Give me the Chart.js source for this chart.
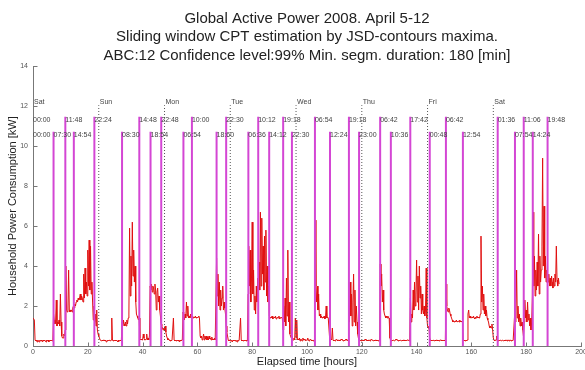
<!DOCTYPE html>
<html>
<head>
<meta charset="utf-8">
<script src="https://cdn.jsdelivr.net/npm/chart.js@4.4.1/dist/chart.umd.min.js"></script>
<style>
  html, body { margin: 0; padding: 0; background: #fff; }
  #wrap { width: 585px; height: 370px; }
</style>
</head>
<body>
<div id="wrap"><canvas id="power" width="585" height="370"></canvas></div>
<script>
// household active power [kW], one reading every 15 minutes from Sat 00:00
const stepHours = 0.25;
const power = [
  // Sat
  1.4, 1.4, 1.3, 0.3, 0.25, 0.3, 0.2, 0.3,
  0.25, 0.2, 0.3, 0.25, 0.3, 0.25, 0.2, 0.3,
  0.25, 0.3, 0.25, 0.2, 0.3, 0.25, 0.3, 0.2,
  0.25, 0.3, 0.25, 0.3, 0.25, 0.3, 1.6, 1.3,
  1.1, 1.2, 2.3, 1.0, 1.2, 1.1, 1.3, 1.0,
  2.6, 1.2, 0.5, 0.4, 0.4, 0.6, 0.5, 0.8,
  4.0, 1.8, 1.7, 1.9, 3.8, 1.8, 1.7, 1.8,
  1.8, 1.7, 1.9, 2.0, 1.9, 2.1, 2.0, 2.2,
  2.3, 2.2, 2.4, 2.3, 2.4, 2.6, 2.3, 2.5,
  2.4, 2.2, 3.6, 2.4, 3.9, 2.6, 3.2, 2.5,
  4.8, 3.0, 5.3, 2.8, 5.0, 2.6, 3.2, 2.2,
  1.3, 2.0, 1.2, 1.6, 1.0, 1.8, 0.8, 0.6,
  // Sun
  0.5, 0.4, 0.3, 0.3, 0.25, 0.3, 0.25, 0.3,
  0.3, 0.25, 0.3, 0.2, 0.25, 0.3, 0.25, 0.3,
  0.3, 0.25, 0.3, 1.4, 0.3, 0.25, 0.3, 0.25,
  0.3, 0.25, 0.3, 0.25, 0.2, 0.3, 0.25, 0.3,
  0.25, 0.3, 1.2, 1.0, 1.3, 1.1, 1.0, 1.2,
  1.0, 1.3, 1.1, 1.4, 1.6, 5.9, 2.5, 4.5,
  3.0, 6.2, 3.5, 4.8, 3.2, 4.0, 2.2, 1.6,
  1.5, 1.4, 1.3, 1.4, 0.4, 0.3, 0.35, 0.3,
  0.3, 0.6, 0.4, 0.3, 0.3, 0.35, 0.6, 0.3,
  0.4, 0.3, 0.5, 3.0, 2.8, 3.1, 2.7, 3.0,
  2.9, 2.6, 3.1, 2.8, 1.8, 2.7, 2.9, 2.2,
  2.5, 1.8, 1.5, 1.1, 1.0, 0.9, 0.8, 0.9,
  // Mon
  0.8, 1.0, 0.7, 0.5, 0.4, 0.3, 0.35, 0.3,
  0.25, 0.3, 0.25, 0.3, 0.3, 1.4, 0.3, 0.25,
  0.3, 0.25, 0.3, 0.25, 0.3, 0.25, 0.2, 0.3,
  0.25, 0.3, 0.3, 1.7, 1.5, 1.3, 1.6, 1.4,
  2.2, 1.5, 2.0, 1.4, 1.5, 1.4, 1.6, 1.4,
  1.4, 1.5, 1.4, 1.45, 1.4, 1.5, 1.4, 1.45,
  1.4, 1.45, 1.5, 1.4, 0.5, 0.4, 0.5, 0.3,
  0.4, 0.6, 0.3, 0.5, 0.35, 0.5, 0.3, 0.45,
  0.3, 0.5, 0.35, 0.4, 0.3, 0.45, 0.3, 0.35,
  0.3, 0.4, 0.3, 0.3, 4.4, 2.5, 3.6, 2.0,
  3.2, 1.8, 2.8, 2.0, 2.4, 3.0, 1.8, 2.2,
  1.9, 1.6, 1.0, 0.7, 0.5, 0.3, 0.25, 0.3,
  // Tue
  0.25, 0.3, 0.25, 0.2, 0.3, 0.25, 0.3, 0.25,
  0.3, 0.25, 0.2, 0.3, 0.25, 0.3, 0.3, 1.4,
  0.3, 0.25, 0.3, 0.25, 0.3, 0.25, 0.3, 0.25,
  0.3, 0.25, 2.6, 5.0, 3.0, 4.8, 2.2, 3.4,
  6.2, 2.6, 3.8, 1.8, 2.5, 1.6, 3.0, 2.2,
  3.4, 2.4, 4.2, 2.8, 6.7, 3.0, 6.4, 3.6,
  5.0, 2.8, 5.5, 3.2, 5.8, 2.5, 4.0, 2.2,
  3.0, 1.5, 1.4, 1.45, 1.4, 1.5, 1.35, 1.4,
  1.45, 1.4, 1.5, 1.35, 1.4, 1.45, 1.4, 1.5,
  1.35, 1.4, 1.45, 1.4, 1.4, 0.8, 2.0, 1.2,
  2.4, 1.0, 3.4, 1.5, 4.8, 1.2, 2.2, 0.6,
  0.5, 0.4, 0.5, 0.3, 0.3, 0.4, 0.3, 1.4,
  // Wed
  0.4, 1.3, 0.3, 0.35, 0.3, 0.4, 0.25, 0.35,
  0.3, 0.25, 0.4, 0.3, 0.35, 0.3, 0.25, 0.3,
  0.3, 0.4, 0.3, 0.25, 0.3, 0.35, 0.3, 0.25,
  0.3, 0.25, 0.3, 0.3, 6.3, 3.0, 2.2, 3.0,
  1.8, 2.6, 1.5, 1.6, 1.4, 1.5, 1.4, 1.45,
  1.4, 1.5, 1.35, 1.4, 2.0, 1.4, 1.45, 1.4,
  1.4, 0.4, 0.3, 0.35, 0.3, 0.9, 0.3, 0.25,
  0.3, 0.25, 0.3, 0.35, 0.3, 0.25, 0.3, 0.3,
  0.25, 0.3, 0.35, 0.3, 0.3, 0.25, 0.3, 0.25,
  0.3, 0.35, 0.3, 0.25, 0.3, 2.0, 1.2, 3.2,
  1.5, 2.6, 1.0, 2.2, 3.6, 1.2, 2.8, 1.0,
  2.0, 1.2, 0.6, 0.4, 0.3, 0.25, 0.3, 0.25,
  // Thu
  0.3, 0.25, 0.3, 0.25, 0.3, 0.35, 0.3, 0.25,
  0.3, 0.25, 0.3, 0.3, 0.25, 0.3, 0.35, 0.3,
  0.3, 0.25, 0.3, 0.25, 0.3, 0.3, 0.25, 0.3,
  0.25, 0.3, 0.3, 4.1, 3.0, 3.6, 2.2, 2.8,
  1.8, 1.6, 1.5, 1.4, 1.5, 1.4, 1.5, 1.4,
  1.4, 0.4, 0.3, 0.25, 0.3, 0.25, 0.3, 0.3,
  0.25, 0.3, 0.35, 0.3, 0.3, 0.25, 0.3, 0.25,
  0.3, 0.3, 0.25, 0.3, 0.25, 0.3, 0.3, 0.25,
  0.3, 0.25, 0.3, 0.3, 0.3, 0.25, 0.5, 2.4,
  1.2, 1.6, 1.4, 2.8, 1.8, 3.2, 2.0, 2.6,
  4.3, 2.2, 3.5, 1.8, 4.0, 2.4, 3.0, 1.6,
  2.6, 1.8, 1.6, 2.0, 1.5, 1.8, 3.9, 1.4,
  // Fri
  1.0, 0.9, 1.0, 0.4, 0.3, 0.25, 0.3, 0.25,
  0.3, 0.3, 0.25, 0.3, 0.25, 0.3, 0.3, 0.25,
  0.3, 0.25, 0.3, 0.3, 0.3, 0.25, 0.3, 0.25,
  0.3, 0.25, 0.3, 3.1, 2.0, 1.8, 1.7, 1.9,
  1.8, 1.6, 1.5, 1.4, 1.3, 1.2, 1.25, 1.2,
  1.25, 1.2, 1.3, 1.2, 1.2, 1.25, 1.2, 1.3,
  1.2, 1.25, 1.2, 1.2, 0.3, 0.25, 0.3, 0.25,
  0.3, 0.25, 0.3, 1.6, 1.8, 1.4, 1.5, 1.4,
  1.4, 1.45, 1.4, 1.5, 1.4, 1.35, 1.45, 1.4,
  1.5, 1.4, 1.45, 1.4, 1.4, 1.6, 5.5, 2.2,
  3.0, 1.8, 2.6, 1.6, 2.0, 1.5, 1.8, 1.4,
  1.3, 1.2, 1.0, 0.9, 1.0, 0.9, 1.1, 0.8,
  // Sat
  0.4, 0.3, 0.25, 0.3, 0.3, 0.5, 0.3, 0.25,
  0.3, 0.25, 0.3, 0.3, 0.25, 0.3, 0.3, 0.25,
  0.3, 0.25, 0.3, 0.3, 0.25, 0.3, 0.3, 0.25,
  0.3, 0.3, 0.25, 0.3, 0.25, 0.3, 0.3, 1.5,
  1.2, 1.8, 3.8, 1.4, 2.0, 1.2, 1.6, 1.0,
  1.4, 1.0, 1.2, 0.8, 0.5, 1.2, 2.3, 1.4,
  1.8, 1.2, 2.2, 1.3, 1.6, 1.0, 1.4, 0.8,
  1.2, 2.5, 6.7, 3.0, 4.5, 2.5, 3.8, 2.8,
  4.2, 3.0, 5.6, 2.6, 4.5, 3.2, 3.8, 5.0,
  9.4, 4.0, 7.0, 3.4, 4.5, 3.2, 3.8, 3.5,
  3.2, 3.6, 3.0, 3.4, 3.0, 3.5, 3.2, 2.9,
  3.4, 3.0, 3.6, 3.2, 5.0, 3.3, 3.0, 3.4,
  3.1
];

// day boundaries
const dayNames = ['Sat', 'Sun', 'Mon', 'Tue', 'Wed', 'Thu', 'Fri', 'Sat'];

// detected change points, upper and lower label rows (day index + clock time)
const upperDay = [0, 0, 0, 1, 1, 2, 2, 3, 3, 4, 4, 5, 5, 6, 7, 7, 7];
const upperTime = ['00:00', '11:48', '22:24', '14:48', '22:48', '10:00', '22:30', '10:12', '19:18',
  '06:54', '19:18', '06:42', '17:42', '06:42', '01:36', '11:06', '19:48'];
const lowerDay = [0, 0, 0, 1, 1, 2, 2, 3, 3, 3, 4, 4, 5, 6, 6, 7, 7];
const lowerTime = ['00:00', '07:30', '14:54', '08:30', '18:54', '06:54', '18:60', '06:36', '14:12',
  '22:30', '12:24', '23:00', '10:36', '00:48', '12:54', '07:54', '14:24'];

const xTickValues = [0, 20, 40, 60, 80, 100, 120, 140, 160, 180, 200];
const yTickValues = [0, 2, 4, 6, 8, 10, 12, 14];

// heights (kW) where the marker lines stop and their labels sit
const UPPER_TOP = 11.47;
const LOWER_TOP = 10.72;
const DAY_TOP = 12.05;

const FONT = '"Liberation Sans", Arial, sans-serif';

function toHours(day, clock) {
  const parts = clock.split(':');
  return day * 24 + Number(parts[0]) + Number(parts[1]) / 60;
}

const upperHours = upperTime.map((t, i) => toHours(upperDay[i], t));
const lowerHours = lowerTime.map((t, i) => toHours(lowerDay[i], t));
const dayHours = dayNames.map((d, i) => i * 24);

// vertical segments from 0 up to top, broken apart with null points
function stems(hours, top) {
  const pts = [];
  hours.forEach(h => {
    if (h <= 0) return;
    pts.push({ x: h, y: 0 }, { x: h, y: top }, { x: h, y: null });
  });
  return pts;
}

const series = power.map((v, i) => ({ x: i * stepHours, y: v }));

// time labels, day names and inward tick marks
const markLabels = {
  id: 'markLabels',
  afterDatasetsDraw(chart) {
    const { ctx, scales: { x, y } } = chart;
    ctx.save();
    ctx.font = '7px ' + FONT;
    ctx.fillStyle = '#444';
    ctx.textAlign = 'left';
    ctx.textBaseline = 'top';
    upperHours.forEach((h, i) => {
      ctx.fillText(upperTime[i], x.getPixelForValue(h), y.getPixelForValue(UPPER_TOP));
    });
    lowerHours.forEach((h, i) => {
      ctx.fillText(lowerTime[i], x.getPixelForValue(h), y.getPixelForValue(LOWER_TOP));
    });
    ctx.textBaseline = 'bottom';
    dayHours.forEach((h, i) => {
      ctx.fillText(dayNames[i], x.getPixelForValue(h) + 1, y.getPixelForValue(DAY_TOP));
    });

    // ticks point into the plot
    ctx.strokeStyle = '#777';
    ctx.lineWidth = 1;
    ctx.beginPath();
    const x0 = Math.round(x.left) + 0.5;
    const y0 = Math.round(y.bottom) + 0.5;
    yTickValues.forEach(v => {
      const py = Math.round(y.getPixelForValue(v)) + 0.5;
      ctx.moveTo(x0, py);
      ctx.lineTo(x0 + 4, py);
    });
    xTickValues.forEach(v => {
      const px = Math.round(x.getPixelForValue(v)) + 0.5;
      ctx.moveTo(px, y0);
      ctx.lineTo(px, y0 - 4);
    });
    ctx.stroke();
    ctx.restore();
  }
};

const ctx = document.getElementById('power').getContext('2d');

new Chart(ctx, {
  type: 'line',
  data: {
    datasets: [
      {
        data: series,
        borderColor: '#e01010',
        borderWidth: 1,
        pointRadius: 0,
        tension: 0,
        order: 3
      },
      {
        data: stems(dayHours, DAY_TOP),
        borderColor: '#555',
        borderWidth: 1,
        borderDash: [1, 2],
        pointRadius: 0,
        spanGaps: false,
        order: 2
      },
      {
        data: stems(upperHours, UPPER_TOP),
        borderColor: 'rgb(212, 70, 212)',
        borderWidth: 2,
        pointRadius: 0,
        spanGaps: false,
        order: 1
      },
      {
        data: stems(lowerHours, LOWER_TOP),
        borderColor: 'rgb(212, 70, 212)',
        borderWidth: 2,
        pointRadius: 0,
        spanGaps: false,
        order: 1
      }
    ]
  },
  options: {
    responsive: false,
    animation: false,
    layout: { padding: { top: 9, right: 4, left: 0, bottom: 0 } },
    plugins: {
      legend: { display: false },
      tooltip: { enabled: false },
      title: {
        display: true,
        fullSize: false,
        text: [
          'Global Active Power 2008. April 5-12',
          'Sliding window CPT estimation by JSD-contours maxima.',
          'ABC:12 Confidence level:99% Min. segm. duration: 180 [min]'
        ],
        color: '#222',
        font: { family: FONT, size: 15, weight: 'normal', lineHeight: 1.25 },
        padding: { top: 0, bottom: 1 }
      }
    },
    scales: {
      x: {
        type: 'linear',
        min: 0,
        max: 200,
        afterBuildTicks: scale => { scale.ticks = xTickValues.map(v => ({ value: v })); },
        afterFit: scale => {
          scale.height = 24;
          scale.paddingLeft = 0;
          scale.paddingRight = 0;
        },
        grid: { display: false, drawTicks: false },
        border: { display: true, color: '#777' },
        ticks: { color: '#555', font: { family: FONT, size: 7 }, padding: 2, maxRotation: 0 },
        title: {
          display: true,
          text: 'Elapsed time [hours]',
          color: '#222',
          font: { family: FONT, size: 11 },
          padding: { top: 0, bottom: 1 }
        }
      },
      y: {
        min: 0,
        max: 14,
        afterBuildTicks: scale => { scale.ticks = yTickValues.map(v => ({ value: v })); },
        afterFit: scale => {
          scale.width = 33;
          scale.paddingTop = 0;
          scale.paddingBottom = 0;
        },
        grid: { display: false, drawTicks: false },
        border: { display: true, color: '#777' },
        ticks: { color: '#555', font: { family: FONT, size: 7 }, padding: 5 },
        title: {
          display: true,
          text: 'Household Power Consumption [kW]',
          color: '#222',
          font: { family: FONT, size: 11 },
          padding: { top: 6, bottom: 0 }
        }
      }
    }
  },
  plugins: [markLabels]
});
</script>
</body>
</html>
